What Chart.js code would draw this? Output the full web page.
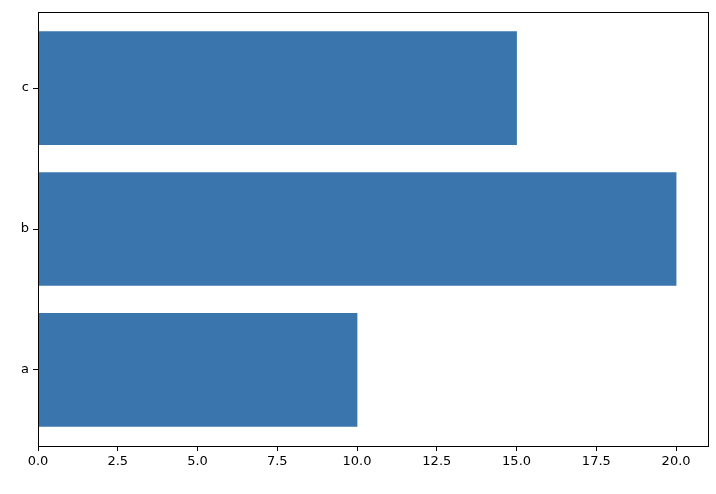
<!DOCTYPE html>
<html><head><meta charset="utf-8">
<script src="https://cdn.jsdelivr.net/npm/chart.js@4"></script>
<style>html,body{margin:0;background:#fff}#w{width:716px;height:494px}</style>
</head><body><div id="w"><canvas id="c"></canvas></div>
<script>
const categories = ['a','b','c'];
const values = [10,20,15];
const xTicks = [0,2.5,5,7.5,10,12.5,15,17.5,20];

const frame = {id:'frame', afterDraw(ch){const a=ch.chartArea,c=ch.ctx;c.save();c.strokeStyle='#000';c.lineWidth=1;c.strokeRect(Math.round(a.left)+0.5,Math.round(a.top)+0.5,Math.round(a.right-a.left),Math.round(a.bottom-a.top));c.restore();}};

new Chart(document.getElementById('c'),{
  type:'bar',
  data:{datasets:[{data:categories.map((k,i)=>({x:values[i],y:i})),backgroundColor:'#3a75ae',barThickness:113,borderWidth:0}]},
  options:{
    indexAxis:'y',responsive:true,maintainAspectRatio:false,animation:false,
    layout:{padding:{top:12,right:8,left:0,bottom:0}},
    plugins:{legend:{display:false},tooltip:{enabled:false}},
    scales:{
      x:{type:'linear',min:0,max:21,
        afterBuildTicks:s=>{s.ticks=xTicks.map(v=>({value:v}));},
        afterFit:s=>{s.height=48;},
        ticks:{color:'#000',font:{family:'DejaVu Sans',size:13},padding:3,callback:v=>v.toFixed(1),maxRotation:0},
        grid:{drawOnChartArea:false,tickLength:5,color:'#000'},border:{display:false}},
      y:{type:'linear',min:-0.54,max:2.54,offset:false,
        afterBuildTicks:s=>{s.ticks=categories.map((k,i)=>({value:i}));},
        afterFit:s=>{s.width=38;},
        ticks:{color:'#000',font:{family:'DejaVu Sans',size:13},padding:4,callback:v=>categories[v]},
        grid:{drawOnChartArea:false,offset:false,tickLength:5,color:'#000'},border:{display:false}}
    }
  },
  plugins:[frame]
});
</script></body></html>
